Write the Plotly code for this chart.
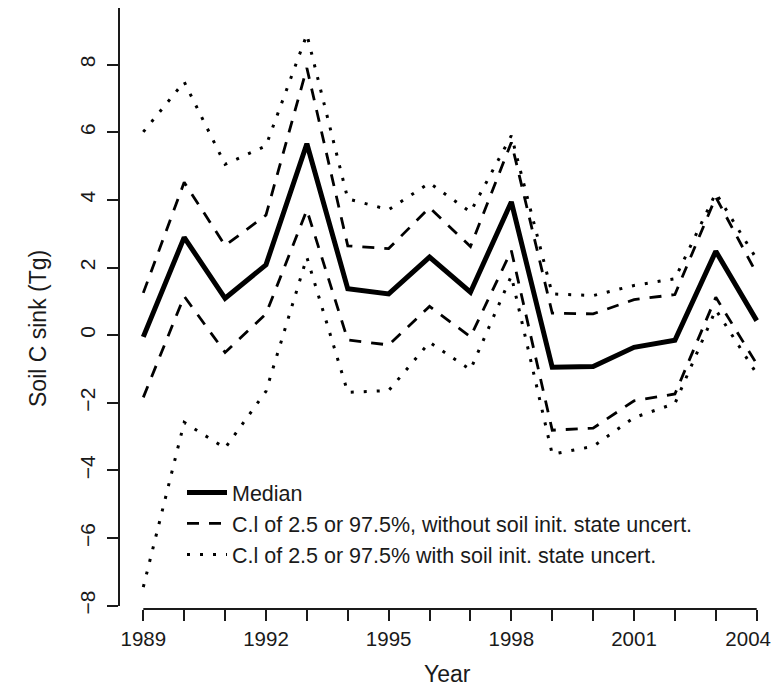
import plotly.graph_objects as go

years = list(range(1989, 2005))
median = [-0.05, 2.89, 1.09, 2.08, 5.66, 1.37, 1.22, 2.31, 1.27, 3.94, -0.95, -0.93, -0.36, -0.15, 2.48, 0.43]
ci_upper = [1.25, 4.52, 2.65, 3.55, 7.9, 2.64, 2.56, 3.77, 2.62, 5.7, 0.65, 0.63, 1.05, 1.2, 4.08, 1.82]
ci_lower = [-1.84, 1.15, -0.51, 0.63, 3.7, -0.14, -0.29, 0.85, -0.05, 2.5, -2.81, -2.75, -1.94, -1.74, 1.12, -0.85]
ci_full_upper = [6.01, 7.49, 5.05, 5.6, 8.89, 4.03, 3.71, 4.5, 3.64, 5.9, 1.22, 1.17, 1.47, 1.67, 4.2, 2.25]
ci_full_lower = [-7.45, -2.58, -3.34, -1.66, 2.3, -1.69, -1.64, -0.21, -1.02, 1.75, -3.52, -3.29, -2.44, -2.02, 0.75, -1.14]

# last label padded with no-break spaces so it stays inside the visible page
x_tick_labels = ["1989", "", "", "1992", "", "", "1995", "", "", "1998", "", "", "2001", "", "",
                 "2004\u00a0\u00a0\u00a0"]
y_ticks = [-8, -6, -4, -2, 0, 2, 4, 6, 8]

name_median = "Median"
name_ci = "C.l of 2.5 or 97.5%, without soil init. state uncert."
name_full = "C.l of 2.5 or 97.5% with soil init. state uncert."

SCREEN_W, SCREEN_H = 779, 696
OFF = 8  # page body margin offset
W, H = SCREEN_W - OFF, SCREEN_H - 2 * OFF
INK = "#1a1a1a"
FONT = "Liberation Sans, Arial, Helvetica, sans-serif"


def fx(px):
    return (px - OFF) / W


def fy(px):
    return 1 - (px - OFF) / H


fig = go.Figure()
fig.add_trace(go.Scatter(x=years, y=median, mode="lines", name=name_median,
                         line=dict(color="black", width=5), legendrank=1))
fig.add_trace(go.Scatter(x=years, y=ci_upper, mode="lines", name=name_ci, legendgroup="ci",
                         line=dict(color="black", width=2.8, dash="12px,10px"), legendrank=2))
fig.add_trace(go.Scatter(x=years, y=ci_lower, mode="lines", name=name_ci, legendgroup="ci", showlegend=False,
                         line=dict(color="black", width=2.8, dash="12px,10px")))
fig.add_trace(go.Scatter(x=years, y=ci_full_upper, mode="lines", name=name_full, legendgroup="full",
                         line=dict(color="black", width=3, dash="3px,10px"), legendrank=3))
fig.add_trace(go.Scatter(x=years, y=ci_full_lower, mode="lines", name=name_full, legendgroup="full", showlegend=False,
                         line=dict(color="black", width=3, dash="3px,10px")))

x_axis_pos = fy(609)
y_axis_pos = fx(119)
px_per_year = (756.7 - 143.3) / 15
x_left = 1989 - (143.3 - 119) / px_per_year
x_right = 2004 + (SCREEN_W - 756.7) / px_per_year

fig.update_layout(
    width=W, height=H,
    margin=dict(l=0, r=0, t=0, b=0, autoexpand=False),
    paper_bgcolor="white", plot_bgcolor="white",
    font=dict(family=FONT, size=21, color=INK),
    showlegend=True,
    legend=dict(x=fx(182), y=fy(472), xanchor="left", yanchor="top",
                bgcolor="rgba(0,0,0,0)", borderwidth=0, itemwidth=40,
                font=dict(size=21.5, color=INK), traceorder="normal"),
    xaxis=dict(domain=[y_axis_pos, 1.0], range=[x_left, x_right],
               anchor="free", position=x_axis_pos, automargin=False,
               showgrid=False, zeroline=False, showline=False,
               tickmode="array", tickvals=years, ticktext=x_tick_labels,
               ticks="outside", ticklen=11, tickwidth=2, tickcolor=INK,
               ticklabeloverflow="allow",
               tickfont=dict(size=20.5, color=INK)),
    yaxis=dict(domain=[fy(605.7), 1.0], range=[-8, 9.674],
               anchor="free", position=y_axis_pos, automargin=False,
               showgrid=False, zeroline=False, showline=True, linecolor=INK, linewidth=2,
               tickmode="array", tickvals=y_ticks,
               ticks="outside", ticklen=11, tickwidth=2, tickcolor=INK,
               ticklabelstandoff=4, ticklabeloverflow="allow",
               tickangle=-90, tickfont=dict(size=21, color=INK)),
    shapes=[dict(type="line", xref="x", yref="paper", x0=years[0], x1=years[-1],
                 y0=x_axis_pos, y1=x_axis_pos, line=dict(color=INK, width=2))],
    annotations=[
        dict(text="Year", xref="paper", yref="paper", x=fx(447), y=fy(674),
             showarrow=False, xanchor="center", yanchor="middle", font=dict(size=23, color=INK)),
        dict(text="Soil C sink (Tg)", xref="paper", yref="paper", x=fx(38), y=fy(329),
             showarrow=False, xanchor="center", yanchor="middle", textangle=-90,
             font=dict(size=23, color=INK)),
    ],
)

fig.write_html("out.html")
